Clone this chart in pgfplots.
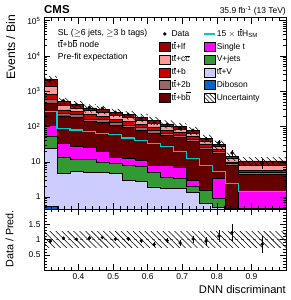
\documentclass[border=0pt]{standalone}
\usepackage{fontspec}
\setmainfont{Liberation Sans}
\usepackage{pgfplots}
\pgfplotsset{compat=1.18}
\usepackage{pgfplotstable}
\usetikzlibrary{patterns.meta}

\definecolor{cLF}{RGB}{153,0,0}
\definecolor{cCC}{RGB}{255,153,153}
\definecolor{cB}{RGB}{204,0,0}
\definecolor{cBBt}{RGB}{153,102,102}
\definecolor{cBB}{RGB}{102,0,0}
\definecolor{cST}{RGB}{255,0,255}
\definecolor{cVJ}{RGB}{51,153,51}
\definecolor{cTTV}{RGB}{204,204,255}
\definecolor{cDB}{RGB}{0,102,204}
\definecolor{cTTH}{RGB}{0,204,204}

\newcommand{\tb}{t$\overline{\hbox{t}}$}
\newcommand{\bbar}{b$\overline{\hbox{b}}$}
\newcommand{\ccbar}{c$\overline{\hbox{c}}$}
\newcommand{\ticksize}{\fontsize{8.5}{9}\selectfont}
\newcommand{\legsize}{\fontsize{8.5}{9}\selectfont}

% cumulative stack tops per bin (left edge); first/last rows close the areas below the axis
\pgfplotstableread{
x      db   ttv   vj    st    bb    bbt   b     cc    lf
0.3    0.01 0.01  0.01  0.01  0.01  0.01  0.01  0.01  0.01
0.3    0.54 24.1  51.8  112   466   579   805   1390  2160
0.3375 0.1  4.66  13.9  33.6  202   241   294   390   518
0.375  0.1  5.42  11.9  26.8  186   216   268   336   417
0.4125 0.1  5.08  11.7  25.8  139   163   216   286   336
0.45   0.1  4.98  10.0  19.3  133   157   197   255   306
0.4875 0.1  4.66  9.36  13.4  109   129   162   209   251
0.525  0.1  3.0   8.05  12.5  94    111   139   180   216
0.5625 0.1  2.81  7.54  11.2  79    93    117   151   181
0.6    0.1  1.93  5.18  8.05  65    77    97    125   150
0.6375 0.1  1.74  3.73  8.05  56    64    79    100   119
0.675  0.1  1.74  3.42  7.2   49    56    68    85    100
0.7125 0.1  1.39  2.06  3.0   38    44    53    65    77
0.75   0.1  0.66  1.55  1.6   23    26    32    39    46
0.7875 0.1  0.5   0.9   3.36  17.4  19.3  22.6  26.8  31.4
0.825  0.1  0.3   0.46  0.47  8.05  9.0   10.0  13.0  14.5
0.8625 0.1  0.3   0.48  1.5   4.37  4.98  5.8   8.05  10.7
1.0    0.1  0.3   0.48  1.5   4.37  4.98  5.8   8.05  10.7
1.0    0.01 0.01  0.01  0.01  0.01  0.01  0.01  0.01  0.01
}\stack

% 15 x ttH signal (bin left edges; last row repeats last bin)
\pgfplotstableread{
x      tth
0.3    268
0.3375 86
0.375  80
0.4125 72
0.45   65
0.4875 58
0.525  47
0.5625 40
0.6    33.6
0.6375 26.8
0.675  19.3
0.7125 12.5
0.75   8.05
0.7875 5.2
0.825  2.4
0.8625 1.46
1.0    1.46
}\tthtab

% data: bin centre, events, stat. error, ratio to prediction, ratio error
\pgfplotstableread{
x        d     e     r     re
0.31875  2052  45.3  0.95  0.021
0.35625  544   23.3  1.05  0.045
0.39375  421   20.5  1.01  0.049
0.43125  353   18.8  1.05  0.056
0.46875  327   18.1  1.07  0.059
0.50625  256   16.0  1.02  0.064
0.54375  222   14.9  1.03  0.069
0.58125  174   13.2  0.96  0.073
0.61875  126   11.2  0.84  0.075
0.65625  115   10.7  0.97  0.090
0.69375  89    9.43  0.89  0.094
0.73125  78.5  8.86  1.02  0.115
0.76875  43.7  6.61  0.95  0.144
0.80625  35.2  5.93  1.12  0.19
0.84375  17.8  4.22  1.23  0.29
0.93125  9.1   3.02  0.85  0.28
}\data

\pgfplotsset{
  cmsaxis/.style={
    scale only axis, width=242bp,
    xmin=0.3, xmax=1.0,
    axis on top,
    tick align=inside, xtick pos=both, ytick pos=both,
    xticklabel pos=left, yticklabel pos=left,
    major tick length=6bp, minor tick length=3bp,
    every tick/.style={black, line width=0.5bp},
    axis line style={line width=0.8bp},
    tick label style={font=\ticksize},
    xtick={0.4,0.5,0.6,0.7,0.8,0.9},
    minor xtick={0.32,0.34,...,0.98},
  },
  stk/.style={const plot, fill=#1, draw=black, line width=0.45bp, forget plot},
  legimg/.style={legend image code/.code={\draw[##1] (0bp,-4.5bp) rectangle (11bp,4.5bp);}},
  legdot/.style={legend image code/.code={\fill[black] (5.5bp,0bp) circle (1.5bp);}},
  legline/.style={legend image code/.code={\draw[cTTH, line width=1.2bp] (0bp,0bp) -- (11bp,0bp);}},
  hatch/.style={pattern={Lines[angle=-45,distance=4.2bp,line width=0.55bp]}, pattern color=black, draw=none, forget plot},
}

\begin{document}
\begin{tikzpicture}
\path[use as bounding box] (0,0) rectangle (291bp,300bp);

\begin{axis}[cmsaxis,
  at={(44bp,90.7bp)}, anchor=south west, height=191.4bp,
  ymode=log, ymin=0.45, ymax=1.2e5,
  xticklabels={},
  ytick={1,10,100,1000,10000,100000},
  yticklabels={1,10,10\textsuperscript{2},10\textsuperscript{3},10\textsuperscript{4},10\textsuperscript{5}},
  minor ytick={0.5,0.6,0.7,0.8,0.9,2,3,4,5,6,7,8,9,20,30,40,50,60,70,80,90,200,300,400,500,600,700,800,900,2000,3000,4000,5000,6000,7000,8000,9000,20000,30000,40000,50000,60000,70000,80000,90000},
  ylabel={Events / Bin},
  ylabel style={at={(rel axis cs:0,1)}, anchor=south east, yshift=28.6bp, xshift=3.3bp, inner sep=0pt, font=\fontsize{12.2}{13}\selectfont},
  legend columns=2,
  legend cell align=left,
  legend style={at={(rel axis cs:0.475,0.944)}, anchor=north west, draw=none, fill=none, inner sep=0pt,
    font=\legsize, row sep=2.6bp,
    nodes={inner sep=1bp, text height=6.4bp, text depth=1.8bp},
    /tikz/every even column/.append style={column sep=12bp}},
]
\addplot[stk=cLF] table[x=x,y=lf] {\stack};
\addplot[stk=cCC] table[x=x,y=cc] {\stack};
\addplot[stk=cB] table[x=x,y=b] {\stack};
\addplot[stk=cBBt] table[x=x,y=bbt] {\stack};
\addplot[stk=cBB] table[x=x,y=bb] {\stack};
\addplot[stk=cST] table[x=x,y=st] {\stack};
\addplot[stk=cVJ] table[x=x,y=vj] {\stack};
\addplot[stk=cTTV] table[x=x,y=ttv] {\stack};
\addplot[stk=cDB] table[x=x,y=db] {\stack};

% uncertainty band around total prediction
\addplot[hatch] coordinates {
(0.3,2722) (0.3375,2722) (0.3375,653) (0.375,653) (0.375,525) (0.4125,525) (0.4125,423) (0.45,423)
(0.45,386) (0.4875,386) (0.4875,316) (0.525,316) (0.525,272) (0.5625,272) (0.5625,228) (0.6,228)
(0.6,189) (0.6375,189) (0.6375,150) (0.675,150) (0.675,126) (0.7125,126) (0.7125,97) (0.75,97)
(0.75,58) (0.7875,58) (0.7875,39.6) (0.825,39.6) (0.825,18.3) (0.8625,18.3) (0.8625,13.5) (1.0,13.5)
(1.0,7.9) (0.8625,7.9) (0.8625,10.7) (0.825,10.7) (0.825,23.2) (0.7875,23.2) (0.7875,34) (0.75,34)
(0.75,57) (0.7125,57) (0.7125,74) (0.675,74) (0.675,88) (0.6375,88) (0.6375,111) (0.6,111)
(0.6,134) (0.5625,134) (0.5625,160) (0.525,160) (0.525,186) (0.4875,186) (0.4875,226) (0.45,226)
(0.45,249) (0.4125,249) (0.4125,309) (0.375,309) (0.375,383) (0.3375,383) (0.3375,1598) (0.3,1598)
};

\addplot[const plot, cTTH, line width=1.2bp, forget plot] table[x=x,y=tth] {\tthtab};

\addplot[only marks, mark=*, mark size=1.5bp, black, forget plot,
  error bars/.cd, y dir=both, y explicit, error bar style={line width=0.45bp}, error mark=none]
  table[x=x, y=d, y error=e] {\data};

% legend entries
\addlegendimage{legdot}
\addlegendentry{Data}
\addlegendimage{legline}
\addlegendentry{15 $\times$ \tb H$_{\hbox{\fontsize{6}{6}\selectfont SM}}$}
\addlegendimage{legimg, fill=cLF, draw=black}
\addlegendentry{\tb+lf}
\addlegendimage{legimg, fill=cST, draw=black}
\addlegendentry{Single t}
\addlegendimage{legimg, fill=cCC, draw=black}
\addlegendentry{\tb+\ccbar}
\addlegendimage{legimg, fill=cVJ, draw=black}
\addlegendentry{V+jets}
\addlegendimage{legimg, fill=cB, draw=black}
\addlegendentry{\tb+b}
\addlegendimage{legimg, fill=cTTV, draw=black}
\addlegendentry{\tb+V}
\addlegendimage{legimg, fill=cBBt, draw=black}
\addlegendentry{\tb+2b}
\addlegendimage{legimg, fill=cDB, draw=black}
\addlegendentry{Diboson}
\addlegendimage{legimg, fill=cBB, draw=black}
\addlegendentry{\tb+\bbar}
\addlegendimage{legimg, pattern={Lines[angle=-45,distance=3bp,line width=0.45bp]}, draw=black}
\addlegendentry{Uncertainty}
\end{axis}

\begin{axis}[cmsaxis,
  at={(44bp,30bp)}, anchor=south west, height=60.7bp,
  ymin=0, ymax=2,
  xticklabels={0.4,0.5,0.6,0.7,0.8,0.9},
  ytick={0.5,1,1.5}, yticklabels={0.5,1,1.5},
  minor ytick={0.1,0.2,0.3,0.4,0.6,0.7,0.8,0.9,1.1,1.2,1.3,1.4,1.6,1.7,1.8,1.9},
  xlabel={DNN discriminant},
  xlabel style={at={(rel axis cs:1,0)}, anchor=north east, yshift=-15bp, inner sep=0pt, font=\fontsize{11.2}{12}\selectfont},
  ylabel={Data / Pred.},
  ylabel style={at={(rel axis cs:0,1)}, anchor=south east, yshift=30.3bp, xshift=-0.7bp, inner sep=0pt, font=\fontsize{10.8}{11}\selectfont},
]
\addplot[gray, dashed, line width=0.4bp, forget plot] coordinates {(0.3,1) (1.0,1)};
\addplot[hatch] coordinates {
(0.3,1.26) (1.0,1.26) (1.0,0.74) (0.3,0.74)
};
\addplot[only marks, mark=*, mark size=1.5bp, black, forget plot,
  error bars/.cd, y dir=both, y explicit, error bar style={line width=0.4bp}, error mark=none]
  table[x=x, y=r, y error=re] {\data};
\end{axis}

\node[anchor=base west, inner sep=0pt, font=\fontsize{11.5}{12}\selectfont\bfseries] at (44bp,286.7bp) {CMS};
\node[anchor=base east, inner sep=0pt, font=\fontsize{8.5}{9}\selectfont] at (286bp,286.7bp) {35.9 fb\textsuperscript{-1} (13 TeV)};
\node[anchor=base west, inner sep=0pt, font=\fontsize{8.7}{9}\selectfont] at (57.7bp,264.7bp) {SL ($\geq$6 jets, $\geq$3 b tags)};
\node[anchor=base west, inner sep=0pt, font=\fontsize{8.7}{9}\selectfont] at (57.7bp,252.3bp) {\tb+\bbar{} node};
\node[anchor=base west, inner sep=0pt, font=\fontsize{8.7}{9}\selectfont] at (57.7bp,240.7bp) {Pre-fit expectation};
\end{tikzpicture}
\end{document}
